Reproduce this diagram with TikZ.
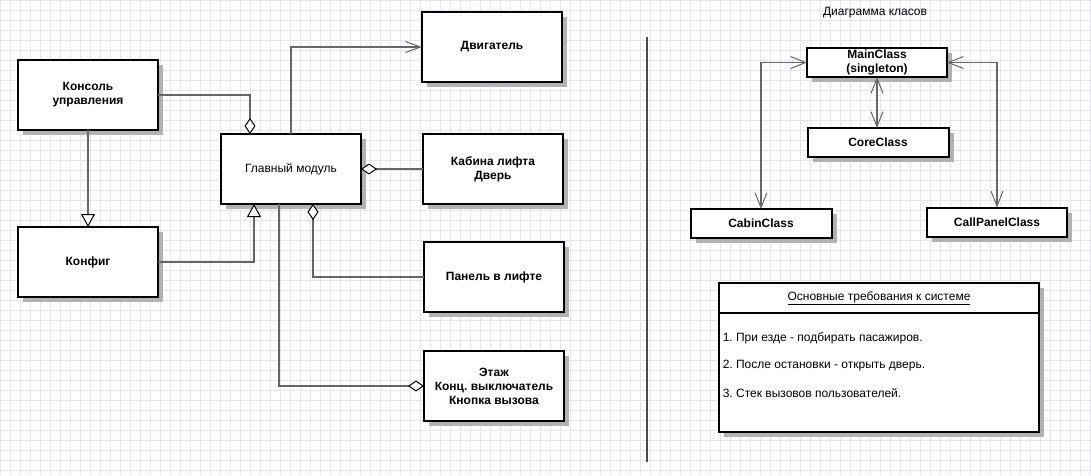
\documentclass[tikz,border=0pt]{standalone}
\usepackage{fontspec}
\setmainfont{Liberation Sans}
\usetikzlibrary{arrows.meta,backgrounds}
\definecolor{gridblue}{HTML}{E4E4F6}
\frenchspacing

\begin{document}
\begin{tikzpicture}[x=1pt,y=-1pt,draw=black!60,line width=1.5pt]
    \tikzstyle{box}=[draw=black,line width=2pt,fill=white,minimum width=140pt,minimum height=70pt,inner sep=0pt,outer sep=0pt,align=center,font=\bfseries\fontsize{12}{14}\selectfont]
    \tikzstyle{cls}=[box,minimum height=29pt]
    \tikzstyle{plain}=[font=\fontsize{12}{14}\selectfont]
    \tikzstyle{agg}=[-{Diamond[fill=white,length=16pt,width=11pt,line width=1pt,color=black]}]
    \tikzstyle{gen}=[-{Triangle[fill=white,length=13pt,width=14pt,line width=1pt,color=black]}]
    \tikzstyle{uses}=[-{Straight Barb[length=15pt,width=11pt,line width=1pt]}]
    \tikzstyle{biuses}=[{Straight Barb[length=15pt,width=12pt,line width=1pt]}-{Straight Barb[length=15pt,width=12pt,line width=1pt]}]

    \useasboundingbox (0,0) rectangle (1091,475);

    % Draw the modules on the left
    \node[box] (KU) at (88,95) {Консоль\\управления};
    \node[box] (KF) at (88,262) {Конфиг};
    \node[box,font=\fontsize{12}{14}\selectfont] (GM) at (291,169) {Главный модуль};
    \node[box] (DV) at (492,47) {Двигатель};
    \node[box] (KL) at (493,169) {Кабина лифта\\Дверь};
    \node[box] (PL) at (494,277) {Панель в лифте};
    \node[box] (ET) at (494,386) {Этаж\\Конц. выключатель\\Кнопка вызова};

    % Connect the modules
    \draw[agg] (KU.east) -| ([xshift=-41pt]GM.north);
    \draw[gen] (KU.south) -- (KF.north);
    \draw[gen] (KF.east) -| ([xshift=-37pt]GM.south);
    \draw[uses] (GM.north) |- (DV.west);
    \draw[agg] (KL.west) -- (GM.east);
    \draw[agg] (PL.west) -| ([xshift=22pt]GM.south);
    \draw[agg] ([xshift=-12pt]GM.south) |- (ET.west);

    % Separator
    \draw[black!70,line width=2pt] (647,37) -- (647,462);

    % Draw the class diagram
    \node[plain] (title) at (875,13) {Диаграмма класов};
    \node[cls] (MC) at (877,62.5) {MainClass\\(singleton)};
    \node[cls,minimum width=141pt] (CC) at (878,142.5) {CoreClass};
    \node[cls,minimum width=141pt] (CB) at (761,223.5) {CabinClass};
    \node[cls] (CP) at (997,222) {CallPanelClass};

    \draw[biuses] (MC.west) -| (CB.north);
    \draw[biuses] (MC.east) -| (CP.north);
    \draw[biuses] (MC.south) -- (MC.south |- CC.north);

    % Requirements box
    \node[box,minimum width=320pt,minimum height=149pt] (REQ) at (879,357.5) {};
    \draw[black,line width=2pt] (REQ.west |- 0,313) -- (REQ.east |- 0,313);
    \node[plain] (REQ-H) at (879,298) {\underline{Основные требования к системе}};
    \foreach \n/\y/\t in {1/341/{1. При езде - подбирать пасажиров.},2/368/{2. После остановки - открыть дверь.},3/397/{3. Стек вызовов пользователей.}}
        \node[plain,anchor=base west,inner sep=0pt] (REQ-\n) at (722,\y) {\t};

    % Grid and shadows behind everything
    \begin{scope}[on background layer]
        \fill[white] (0,0) rectangle (1091,475);
        \draw[gridblue,line width=0.5pt] (0,0) grid[step=10pt] (1091,475);
        \foreach \name in {KU,KF,GM,DV,KL,PL,ET,MC,CC,CB,CP,REQ}
            \fill[black!30] ([shift={(5pt,-5pt)}]\name.south west) rectangle ([shift={(5pt,-5pt)}]\name.north east);
    \end{scope}
\end{tikzpicture}
\end{document}
